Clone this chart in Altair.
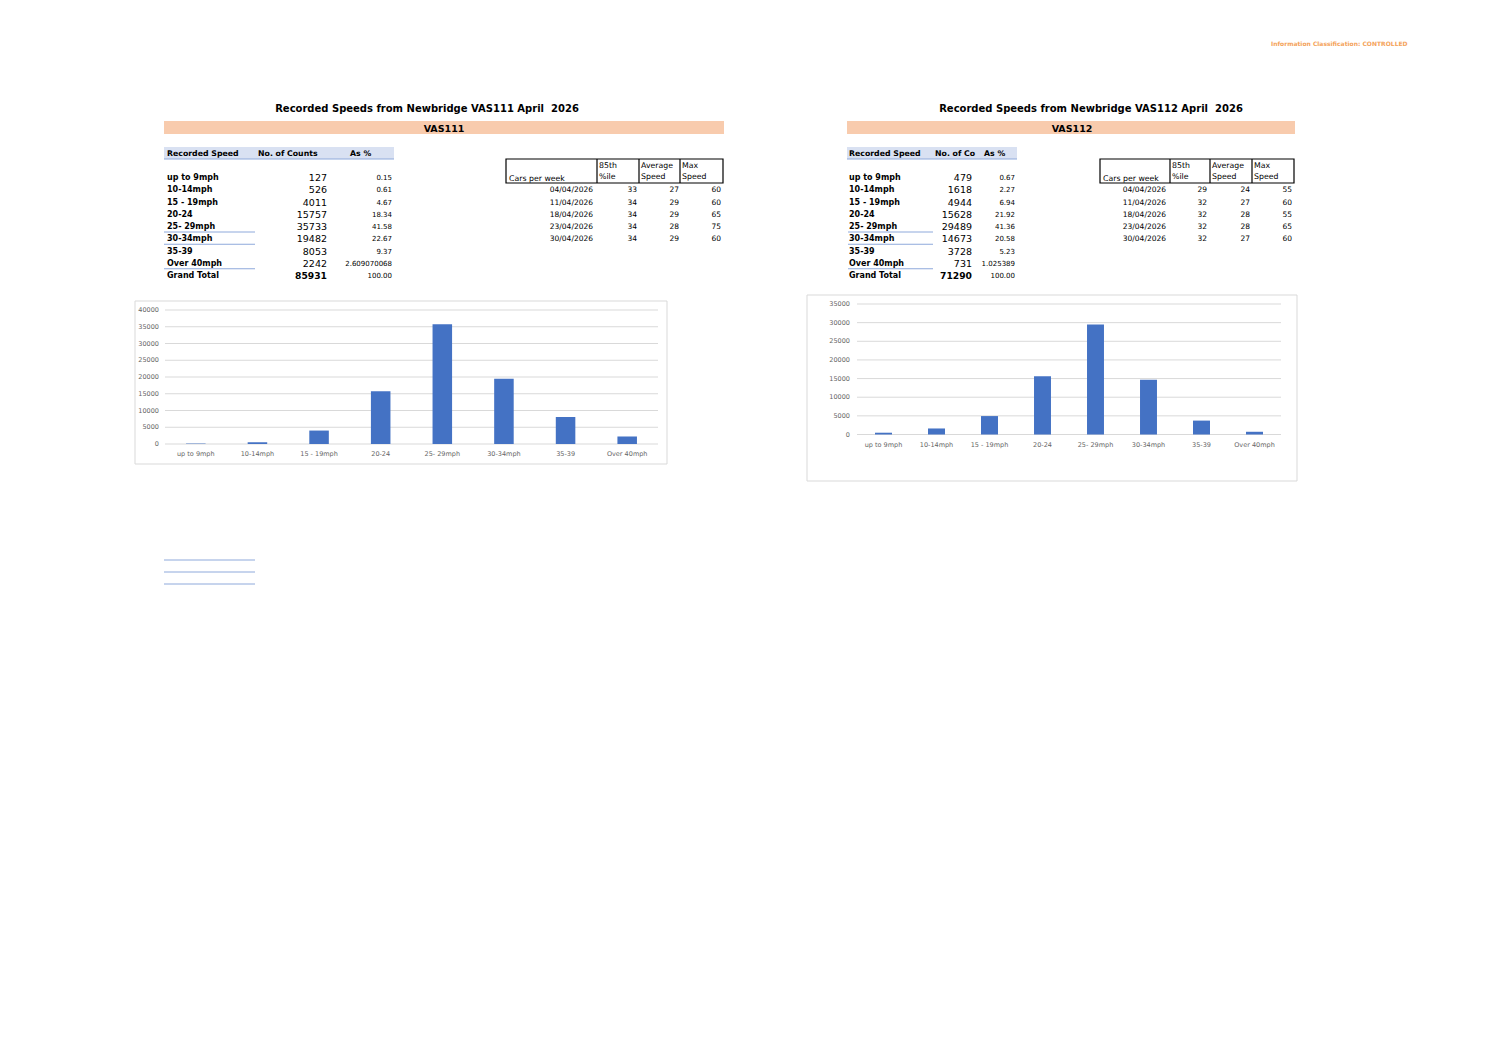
import altair as alt
import pandas as pd

# ---------------- data ----------------
categories = ["up to 9mph", "10-14mph", "15 - 19mph", "20-24", "25- 29mph",
              "30-34mph", "35-39", "Over 40mph"]
counts_111 = [127, 526, 4011, 15757, 35733, 19482, 8053, 2242]
counts_112 = [479, 1618, 4944, 15628, 29489, 14673, 3728, 731]
pct_111 = ["0.15", "0.61", "4.67", "18.34", "41.58", "22.67", "9.37", "2.609070068"]
pct_112 = ["0.67", "2.27", "6.94", "21.92", "41.36", "20.58", "5.23", "1.025389"]
total_111 = 85931
total_112 = 71290
total_pct = "100.00"
week_dates = ["04/04/2026", "11/04/2026", "18/04/2026", "23/04/2026", "30/04/2026"]
p85_111 = [33, 34, 34, 34, 34]
avg_111 = [27, 29, 29, 28, 29]
max_111 = [60, 60, 65, 75, 60]
p85_112 = [29, 32, 32, 32, 32]
avg_112 = [24, 27, 28, 28, 27]
max_112 = [55, 60, 55, 65, 60]
ticks_111 = [0, 5000, 10000, 15000, 20000, 25000, 30000, 35000, 40000]
ticks_112 = [0, 5000, 10000, 15000, 20000, 25000, 30000, 35000]
title_111 = "Recorded Speeds from Newbridge VAS111 April \u00a02026"
title_112 = "Recorded Speeds from Newbridge VAS112 April \u00a02026"
classification = "Information Classification: CONTROLLED"

# ---------------- layout (page pixels) ----------------
W, H = 1470, 1030
OX, OY = 8, 8
FONT = "DejaVu Sans"
ROW0, STEP = 177, 12.25


def PXs():
    return alt.Scale(domain=[OX, OX + W], range=[0, W], nice=False, zero=False)


def PYs():
    return alt.Scale(domain=[OY, OY + H], range=[0, H], nice=False, zero=False)


def texts(rows, **kw):
    df = pd.DataFrame(rows, columns=["px", "py", "t"])
    kw.setdefault("font", FONT)
    kw.setdefault("baseline", "middle")
    kw.setdefault("color", "#000000")
    kw.setdefault("dy", 1)
    return alt.Chart(df).mark_text(**kw).encode(
        x=alt.X("px:Q", scale=PXs(), axis=None),
        y=alt.Y("py:Q", scale=PYs(), axis=None),
        text="t:N")


def rects(rows, **kw):
    df = pd.DataFrame(rows, columns=["x1", "x2", "y1", "y2"])
    return alt.Chart(df).mark_rect(**kw).encode(
        x=alt.X("x1:Q", scale=PXs(), axis=None), x2="x2",
        y=alt.Y("y1:Q", scale=PYs(), axis=None), y2="y2")


def rules(rows, **kw):
    df = pd.DataFrame(rows, columns=["x1", "x2", "y1", "y2"])
    return alt.Chart(df).mark_rule(**kw).encode(
        x=alt.X("x1:Q", scale=PXs(), axis=None), x2="x2",
        y=alt.Y("y1:Q", scale=PYs(), axis=None), y2="y2")


def bar_panel(counts, ticks, xr, yr, tick_right, label_y, pad):
    df = pd.DataFrame({"cat": categories, "count": counts})
    xs = alt.Scale(type="band", domain=categories, range=[xr[0] - OX, xr[1] - OX],
                   paddingInner=pad, paddingOuter=pad / 2)
    ys = alt.Scale(domain=[0, ticks[-1]], range=[yr[0] - OY, yr[1] - OY], nice=False, zero=True)
    tdf = pd.DataFrame({"v": ticks})
    grid = alt.Chart(tdf).mark_rule(color="#D9D9D9", strokeWidth=1).encode(
        y=alt.Y("v:Q", scale=ys, axis=None),
        x=alt.value(xr[0] - OX), x2=alt.value(xr[1] - OX))
    ylab = alt.Chart(tdf).mark_text(align="right", baseline="middle", fontSize=6.5,
                                    color="#666666", font=FONT).encode(
        y=alt.Y("v:Q", scale=ys, axis=None), x=alt.value(tick_right - OX),
        text=alt.Text("v:Q", format="d"))
    bars = alt.Chart(df).mark_bar(color="#4472C4").encode(
        x=alt.X("cat:N", scale=xs, axis=None, sort=categories),
        y=alt.Y("count:Q", scale=ys, axis=None))
    xlab = alt.Chart(df).mark_text(baseline="middle", fontSize=6.5, color="#666666",
                                   font=FONT).encode(
        x=alt.X("cat:N", scale=xs, axis=None, sort=categories),
        y=alt.value(label_y - OY), text="cat:N")
    return [grid, ylab, bars, xlab]


def table_layers(counts, pcts, total, lab_x, cnt_r, pct_r, head_x, band_x, line_x):
    layers = []
    # header band + bottom border
    layers.append(rects([(band_x[0], band_x[1], 147, 159)], color="#D9E1F2"))
    layers.append(rules([(band_x[0], band_x[1], 159, 159)], color="#8EA9DB", strokeWidth=1))
    # row underlines (rows 4, 5, 7)
    layers.append(rules([(line_x[0], line_x[1], ROW0 + i * STEP + 6, ROW0 + i * STEP + 6)
                         for i in (4, 5, 7)], color="#8EA9DB", strokeWidth=1))
    labels = categories + ["Grand Total"]
    layers.append(texts([(lab_x, ROW0 + i * STEP, s) for i, s in enumerate(labels)],
                        align="left", fontSize=8, fontWeight="bold"))
    layers.append(texts([(cnt_r, ROW0 + i * STEP, str(c)) for i, c in enumerate(counts)],
                        align="right", fontSize=9.5))
    layers.append(texts([(cnt_r, ROW0 + 8 * STEP, str(total))],
                        align="right", fontSize=9.2, fontWeight="bold"))
    layers.append(texts([(pct_r, ROW0 + i * STEP, p) for i, p in enumerate(pcts + [total_pct])],
                        align="right", fontSize=7))
    layers.append(texts([(head_x[0], 153, "Recorded Speed"), (head_x[2], 153, "As %")],
                        align="left", fontSize=7.8, fontWeight="bold"))
    return layers


def week_layers(p85, avg, mx, box_x, divs, val_r):
    layers = []
    layers.append(rects([(box_x[0], box_x[1], 159, 183)], fill="white", fillOpacity=0,
                        stroke="#000000", strokeWidth=1.2))
    layers.append(rules([(d, d, 159, 183) for d in divs], color="#000000", strokeWidth=1.2))
    layers.append(texts([(box_x[0] + 3, 177.5, "Cars per week"),
                         (divs[0] + 2, 165, "85th"), (divs[0] + 2, 176, "%ile"),
                         (divs[1] + 2, 165, "Average"), (divs[1] + 2, 176, "Speed"),
                         (divs[2] + 2, 165, "Max"), (divs[2] + 2, 176, "Speed")],
                        align="left", fontSize=7.8))
    rows = []
    for i in range(len(week_dates)):
        y = ROW0 + (i + 1) * STEP
        rows += [(val_r[0], y, week_dates[i]), (val_r[1], y, str(p85[i])),
                 (val_r[2], y, str(avg[i])), (val_r[3], y, str(mx[i]))]
    layers.append(texts(rows, align="right", fontSize=7.5))
    return layers


layers = []
# chart borders
layers.append(rects([(135, 667, 301, 464), (807, 1297, 295, 481)], fill="white",
                    fillOpacity=0, stroke="#D9D9D9", strokeWidth=1))
# orange section bands
layers.append(rects([(164, 724, 121, 134), (847, 1295, 121, 134)], color="#F8CBAD"))
# titles
layers.append(texts([(427, 108, title_111), (1091, 108, title_112)],
                    align="center", fontSize=10, fontWeight="bold"))
layers.append(texts([(444, 127.5, "VAS111"), (1072, 127.5, "VAS112")],
                    align="center", fontSize=9.5, fontWeight="bold"))
layers.append(texts([(1271, 43, classification)], align="left", fontSize=6,
                    color="#F4A259", fontWeight="bold"))

layers += table_layers(counts_111, pct_111, total_111, 167, 327, 392,
                       (167, 258, 350), (164, 394), (164, 255))
layers.append(texts([(258, 153, "No. of Counts")], align="left", fontSize=7.8, fontWeight="bold"))
layers += table_layers(counts_112, pct_112, total_112, 849, 972, 1015,
                       (849, 935, 984), (847, 1017), (848, 933))
layers.append(texts([(935, 153, "No. of Counts")], align="left", fontSize=7.8,
                    fontWeight="bold", limit=42, ellipsis="\u200b"))

layers += week_layers(p85_111, avg_111, max_111, (506, 723), (597, 639, 680),
                      (593, 637, 679, 721))
layers += week_layers(p85_112, avg_112, max_112, (1100, 1294), (1170, 1210, 1252),
                      (1166, 1207, 1250, 1292))

# decorative lines under the first table
layers.append(rules([(164, 255, y, y) for y in (560, 572, 584)], color="#8EA9DB", strokeWidth=1))

# bar charts
layers += bar_panel(counts_111, ticks_111, (165, 658), (444, 310), 159, 453.5, 0.683)
layers += bar_panel(counts_112, ticks_112, (857, 1281), (434.5, 304), 850, 444.5, 0.68)

chart = alt.layer(*layers).resolve_scale(x="independent", y="independent").properties(
    width=W, height=H, padding=0,
    autosize=alt.AutoSizeParams(type="none"),
    background="white",
).configure_view(stroke=None)

chart.save("out.html", embed_options={"renderer": "svg", "actions": False})
